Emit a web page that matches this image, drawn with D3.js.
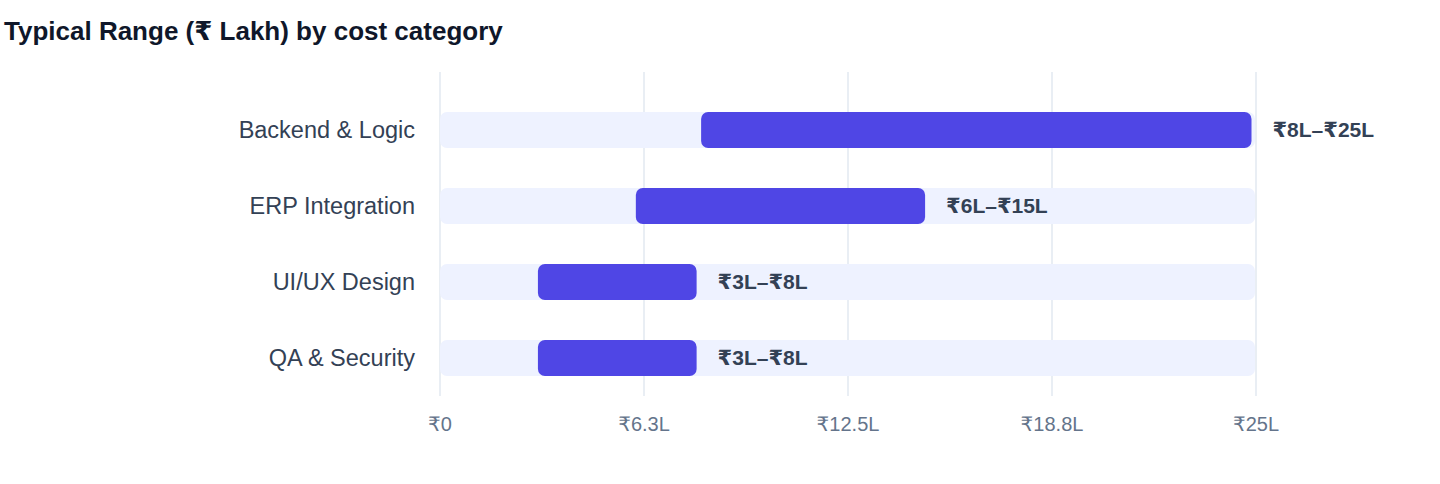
<!DOCTYPE html>
<html>
<head>
<meta charset="utf-8">
<script src="https://cdn.jsdelivr.net/npm/d3@7"></script>
<style>
  body { margin: 0; background: #fff; font-family: "Liberation Sans", Arial, "DejaVu Sans", sans-serif; }
</style>
</head>
<body>
<div id="chart"></div>
<script>
// Data
const categories = ["Backend & Logic", "ERP Integration", "UI/UX Design", "QA & Security"];
const lowValues = [8, 6, 3, 3];
const highValues = [25, 15, 8, 8];
const tickValues = [0, 6.25, 12.5, 18.75, 25];
const tickLabels = ["₹0", "₹6.3L", "₹12.5L", "₹18.8L", "₹25L"];

const width = 1440, height = 484;
const svg = d3.select("#chart").append("svg")
    .attr("width", width)
    .attr("height", height);

// Title
svg.append("text")
    .attr("x", 4)
    .attr("y", 40)
    .attr("font-size", 26)
    .attr("font-weight", "bold")
    .attr("fill", "#0f172a")
    .text("Typical Range (₹ Lakh) by cost category");

const x = d3.scaleLinear().domain([0, 25]).range([440, 1256]);
const y = d3.scaleBand().domain(categories).range([92, 396]).paddingInner(0.526).paddingOuter(0.263);

// Gridlines
svg.append("g").selectAll("line")
    .data(tickValues)
    .join("line")
    .attr("x1", d => x(d)).attr("x2", d => x(d))
    .attr("y1", 72).attr("y2", 396)
    .attr("stroke", "#e2e8f0")
    .attr("stroke-width", 1.5);

// Tick labels
svg.append("g").selectAll("text")
    .data(tickValues)
    .join("text")
    .attr("x", d => x(d))
    .attr("y", 431)
    .attr("text-anchor", "middle")
    .attr("font-size", 20)
    .attr("fill", "#64748b")
    .text((d, i) => tickLabels[i]);

const rows = categories.map((c, i) => ({ name: c, lo: lowValues[i], hi: highValues[i] }));
const barH = 36;

const g = svg.append("g").selectAll("g")
    .data(rows)
    .join("g")
    .attr("transform", d => `translate(0,${y(d.name) + y.bandwidth() / 2})`);

// Track
g.append("rect")
    .attr("x", x(0))
    .attr("y", -barH / 2)
    .attr("width", x(25) - x(0) - 1)
    .attr("height", barH)
    .attr("rx", 7)
    .attr("fill", "#eef2ff");

// Range bar
g.append("rect")
    .attr("x", d => x(d.lo))
    .attr("y", -barH / 2)
    .attr("width", d => x(d.hi) - x(d.lo) - 4.5)
    .attr("height", barH)
    .attr("rx", 7)
    .attr("fill", "#4f46e5");

// Category labels
g.append("text")
    .attr("x", 415)
    .attr("y", 0)
    .attr("dy", "0.35em")
    .attr("text-anchor", "end")
    .attr("font-size", 23.5)
    .attr("fill", "#334155")
    .text(d => d.name);

// Value labels
g.append("text")
    .attr("x", d => x(d.hi) - 4.5 + 21)
    .attr("y", 0)
    .attr("dy", "0.35em")
    .attr("font-size", 21)
    .attr("font-weight", "bold")
    .attr("fill", "#334155")
    .text(d => `₹${d.lo}L–₹${d.hi}L`);
</script>
</body>
</html>
